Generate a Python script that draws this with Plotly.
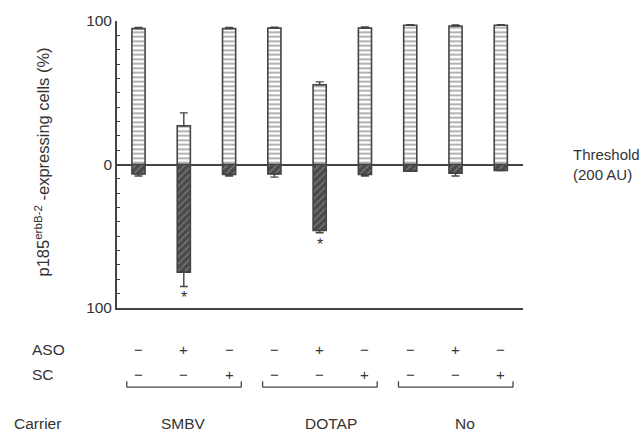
import plotly.graph_objects as go

# ---- data ----
categories = list(range(9))
expressing = [94.7, 27.0, 94.7, 95.0, 55.6, 95.0, 97.0, 96.5, 97.0]
expressing_err = [0.8, 9.0, 0.8, 0.6, 2.0, 0.8, 0.5, 0.8, 0.5]
nonexpr = [6.5, 75.0, 7.0, 6.5, 46.0, 7.0, 4.6, 6.0, 4.2]
nonexpr_err = [1.5, 10.0, 1.0, 2.3, 1.6, 1.0, 0.0, 2.0, 0.0]
significant = [0, 1, 0, 0, 1, 0, 0, 0, 0]
aso_row = ["−", "+", "−"] * 3
sc_row = ["−", "−", "+"] * 3
carriers = ["SMBV", "DOTAP", "No"]
carrier_label_pos = [1.0, 4.25, 7.2]
group_spans = [(0, 2), (3, 5), (6, 8)]
ytick_vals = [100, 0, -100]
ytick_text = ["100", "0", "100"]

INK = "#444444"
TXT = "#333333"
FONT = "Liberation Sans"

fig = go.Figure()
fig.add_trace(go.Bar(
    x=categories, y=expressing, width=0.29,
    marker=dict(color="white", line=dict(color=INK, width=1.6),
                pattern=dict(shape="-", fgcolor="#505050", bgcolor="white",
                             size=4.5, solidity=0.4)),
    error_y=dict(type="data", array=expressing_err, arrayminus=[0] * 9,
                 symmetric=False, color=INK, thickness=1.4, width=4),
))
fig.add_trace(go.Bar(
    x=categories, y=[-v for v in nonexpr], width=0.29,
    marker=dict(color="#4a4a4a", line=dict(color=INK, width=1.6),
                pattern=dict(shape="/", fgcolor="#b5b5b5", bgcolor="#4a4a4a",
                             size=5, solidity=0.22)),
    error_y=dict(type="data", array=[0] * 9, arrayminus=nonexpr_err,
                 symmetric=False, color=INK, thickness=1.4, width=4),
))

ann = []
# significance stars
for i, s in enumerate(significant):
    if s:
        ann.append(dict(x=i, y=-(nonexpr[i] + nonexpr_err[i]), xref="x", yref="y",
                        text="*", showarrow=False, yanchor="top", yshift=-1,
                        font=dict(size=16, color=TXT)))

# y-axis title
ann.append(dict(x=-0.185, y=0.51, xref="paper", yref="paper", textangle=-90,
                xanchor="center", yanchor="middle",
                text="p185<sup>erbB-2</sup> -expressing cells (%)", showarrow=False,
                font=dict(size=16.5, color=TXT)))
# threshold label
ann.append(dict(x=1.118, y=0, xref="paper", yref="y", xanchor="left", yanchor="middle",
                align="left", text="Threshold<br>(200 AU)", showarrow=False,
                font=dict(size=15, color=TXT)))

# table rows
row_y = {"ASO": -0.1448, "SC": -0.231}
for name, row in (("ASO", aso_row), ("SC", sc_row)):
    ann.append(dict(x=-0.2143, y=row_y[name], xref="paper", yref="paper",
                    xanchor="left", yanchor="middle", text=name, showarrow=False,
                    font=dict(size=15.5, color=TXT)))
    for i, sym in enumerate(row):
        ann.append(dict(x=categories[i], y=row_y[name], xref="x", yref="paper",
                        xanchor="center", yanchor="middle",
                        text=sym, showarrow=False, font=dict(size=15, color=TXT)))

ann.append(dict(x=-0.2586, y=-0.403, xref="paper", yref="paper", xanchor="left",
                yanchor="middle", text="Carrier", showarrow=False,
                font=dict(size=15.5, color=TXT)))
for c, p in zip(carriers, carrier_label_pos):
    ann.append(dict(x=p, y=-0.403, xref="x", yref="paper", text=c,
                    xanchor="center", yanchor="middle",
                    showarrow=False, font=dict(size=15.5, color=TXT)))

shapes = []
for a, b in group_spans:
    x0, x1 = a - 0.26, b + 0.27
    shapes.append(dict(type="line", xref="x", yref="paper", x0=x0, x1=x1,
                       y0=-0.276, y1=-0.276, line=dict(color=INK, width=1.3)))
    for xx in (x0, x1):
        shapes.append(dict(type="line", xref="x", yref="paper", x0=xx, x1=xx,
                           y0=-0.276, y1=-0.255, line=dict(color=INK, width=1.3)))

fig.update_layout(
    width=642, height=433,
    margin=dict(l=117, r=119, t=18, b=125),
    paper_bgcolor="white", plot_bgcolor="white",
    barmode="relative", showlegend=False,
    font=dict(family=FONT, size=15, color=TXT),
    annotations=ann, shapes=shapes,
    xaxis=dict(range=[-0.475, 8.49], showticklabels=False, ticks="",
               showgrid=False, zeroline=False, showline=True,
               linecolor=INK, linewidth=1.8),
    yaxis=dict(range=[-100, 100], tickvals=ytick_vals, ticktext=ytick_text,
               ticks="inside", ticklen=5, tickcolor=INK, tickwidth=1.3,
               showgrid=False, showline=True, linecolor=INK, linewidth=1.8,
               zeroline=True, zerolinecolor=INK, zerolinewidth=1.8,
               tickfont=dict(size=15.5, color=TXT),
               minor=dict(dtick=10, ticks="inside", ticklen=3,
                          tickcolor=INK, tickwidth=1.1, showgrid=False)),
)

fig.write_html("out.html")
